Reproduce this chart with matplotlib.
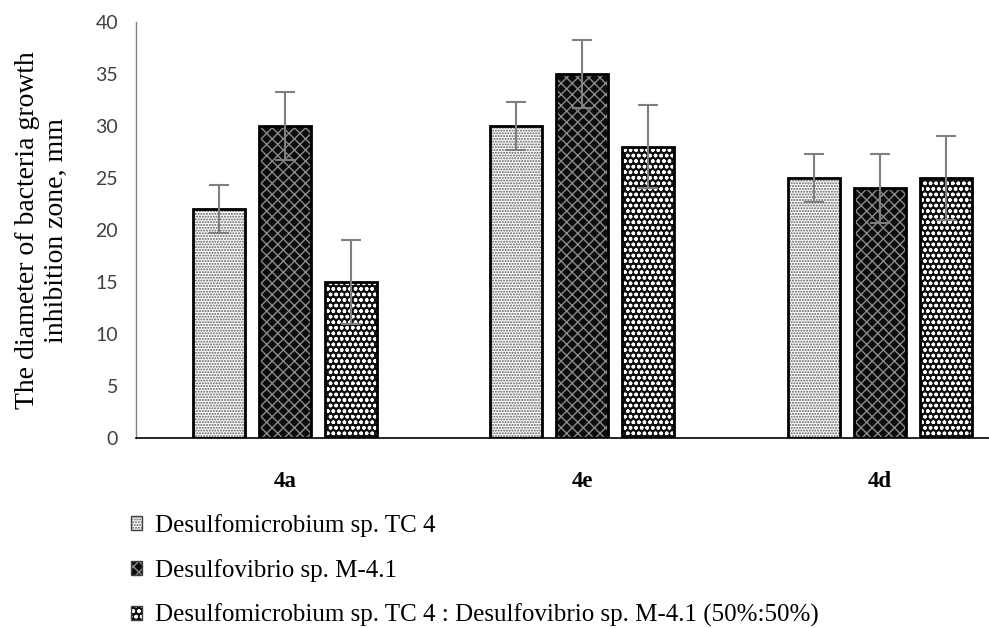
import matplotlib
matplotlib.use("Agg")
import matplotlib.pyplot as plt
import numpy as np
from matplotlib.patches import Patch

categories = ["4a", "4e", "4d"]
series_names = [
    "Desulfomicrobium sp. TC 4",
    "Desulfovibrio sp. M-4.1",
    "Desulfomicrobium sp. TC 4 : Desulfovibrio sp. M-4.1 (50%:50%)",
]
tc4 = [22, 30, 25]
m41 = [30, 35, 24]
mix = [15, 28, 25]
tc4_err = [2.3, 2.3, 2.3]
m41_err = [3.3, 3.3, 3.3]
mix_err = [4.0, 4.0, 4.0]
yticks = [0, 5, 10, 15, 20, 25, 30, 35, 40]

values = [tc4, m41, mix]
errors = [tc4_err, m41_err, mix_err]
styles = [
    dict(fc="white", hatch="......", hc="#5a5a5a"),
    dict(fc="#0c0c0c", hatch="xxx", hc="#8a8a8a"),
    dict(fc="#101010", hatch="ooo", hc="white"),
]

plt.rcParams["hatch.linewidth"] = 1.0

W, H = 989, 628
fig = plt.figure(figsize=(W / 100, H / 100), dpi=100)
ax = fig.add_axes([136 / W, (H - 438) / H, 892.5 / W, 416 / H])

x = np.arange(len(categories))
offsets = [-0.222, 0.0, 0.222]
bw = 0.176
handles = []
for vals, errs, off, st in zip(values, errors, offsets, styles):
    ax.bar(x + off, vals, bw, color=st["fc"], hatch=st["hatch"],
           edgecolor=st["hc"], linewidth=0, zorder=2)
    ax.bar(x + off, vals, bw, fill=False, edgecolor="black",
           linewidth=2, zorder=3)
    ax.errorbar(x + off, vals, yerr=errs, fmt="none", ecolor="#7f7f7f",
                elinewidth=1.5, capsize=7, capthick=1.5, zorder=4)
    handles.append((Patch(facecolor=st["fc"], hatch=st["hatch"],
                          edgecolor=st["hc"], linewidth=0),
                    Patch(fill=False, edgecolor="#404040", linewidth=1)))

ax.set_xlim(-0.5, 2.5)
ax.set_ylim(0, 40)
ax.set_yticks(yticks)
ax.set_yticklabels([str(t) for t in yticks], fontsize=14,
                   fontfamily="Lato", color="#404040")
ax.set_xticks(x)
ax.set_xticklabels(categories, fontsize=16.5, fontweight="bold",
                   fontfamily="Liberation Serif")
ax.tick_params(axis="y", length=0, pad=13)
ax.tick_params(axis="x", length=0, pad=24)
for s in ["top", "right"]:
    ax.spines[s].set_visible(False)
ax.spines["left"].set_color("#808080")
ax.spines["left"].set_linewidth(1)
ax.spines["bottom"].set_color("black")
ax.spines["bottom"].set_linewidth(1.2)

ax.set_ylabel("The diameter of bacteria growth\ninhibition zone, mm",
              fontsize=20, fontfamily="Liberation Serif", labelpad=19,
              linespacing=1.2)

fig.legend(handles, series_names, loc="upper left",
           bbox_to_anchor=(131 / W, (H - 514) / H),
           frameon=False, borderpad=0, borderaxespad=0,
           handlelength=0.45, handleheight=0.45, handletextpad=0.5,
           labelspacing=0.88,
           prop=dict(family="Liberation Serif", size=18))

fig.savefig("out.png", dpi=100)
